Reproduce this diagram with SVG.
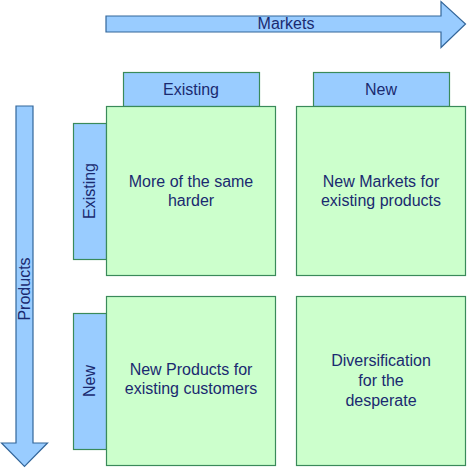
<svg xmlns="http://www.w3.org/2000/svg" width="467" height="468" viewBox="0 0 467 468">
<style>
.arrow{fill:#99ccff;stroke:#33669a;stroke-width:1.2}
.hdr{fill:#99ccff;stroke:#3a8a5a;stroke-width:1.2}
.cell{fill:#ccffcc;stroke:#3a8a5a;stroke-width:1.2}
text{font-family:"Liberation Sans",Arial,sans-serif;font-size:16px;fill:#1a2a70;text-anchor:middle;dominant-baseline:central}
</style>
<rect width="467" height="468" fill="#ffffff"/>
<g id="connectors">
<g id="markets-arrow">
<polygon class="arrow" points="106,16 441,16 441,1.5 465.5,24 441,47.5 441,32 106,32"/>
<text x="286" y="23">Markets</text>
</g>
<g id="products-arrow">
<polygon class="arrow" points="16,106 33,106 33,443 47.5,443 24.5,466.5 1.5,443 16,443"/>
<text transform="translate(24.5 289) rotate(-90)">Products</text>
</g>
</g>
<g id="hdr-existing-market">
<rect class="hdr" x="123.5" y="72.5" width="136" height="34"/>
<text x="191" y="89">Existing</text>
</g>
<g id="hdr-new-market">
<rect class="hdr" x="313.5" y="72.5" width="136" height="34"/>
<text x="381" y="89">New</text>
</g>
<g id="hdr-existing-product">
<rect class="hdr" x="73.5" y="123.5" width="33" height="136"/>
<text transform="translate(89.5 191) rotate(-90)">Existing</text>
</g>
<g id="hdr-new-product">
<rect class="hdr" x="73.5" y="313.5" width="33" height="136"/>
<text transform="translate(89.5 381) rotate(-90)">New</text>
</g>
<g id="cell-tl">
<rect class="cell" x="106.5" y="106.5" width="169" height="169"/>
<text x="191" y="181">More of the same</text>
<text x="191" y="200">harder</text>
</g>
<g id="cell-tr">
<rect class="cell" x="296.5" y="106.5" width="169" height="169"/>
<text x="381" y="181">New Markets for</text>
<text x="381" y="200">existing products</text>
</g>
<g id="cell-bl">
<rect class="cell" x="106.5" y="296.5" width="169" height="169"/>
<text x="191" y="369">New Products for</text>
<text x="191" y="388">existing customers</text>
</g>
<g id="cell-br">
<rect class="cell" x="296.5" y="296.5" width="169" height="169"/>
<text x="381" y="360">Diversification</text>
<text x="381" y="380">for the</text>
<text x="381" y="400">desperate</text>
</g>
</svg>
